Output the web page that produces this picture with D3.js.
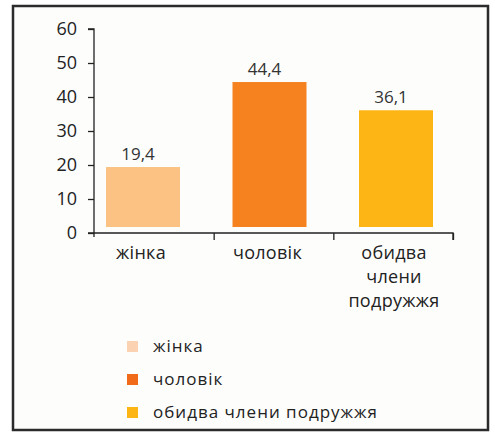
<!DOCTYPE html>
<html><head><meta charset="utf-8">
<script src="https://cdn.jsdelivr.net/npm/d3@7"></script>
<style>body{margin:0;background:#fff;}svg{display:block;font-family:"Open Sans",sans-serif;}</style>
</head><body>
<script>
const categories = ["жінка", "чоловік", "обидва члени подружжя"];
const axisLabels = [["жінка"], ["чоловік"], ["обидва", "члени", "подружжя"]];
const values = [19.4, 44.4, 36.1];
const valueLabels = ["19,4", "44,4", "36,1"];
const colors = ["#FBC283", "#F5821F", "#FDB515"];
const legendColors = ["#FBD3B3", "#F06A1A", "#FDB515"];
const yTicks = [0, 10, 20, 30, 40, 50, 60];

const W = 495, H = 437;
const svg = d3.select("body").append("svg").attr("width", W).attr("height", H);

// frame
svg.append("rect").attr("x", 13).attr("y", 6).attr("width", 475).attr("height", 424)
  .attr("fill", "#fdfdfc").attr("stroke", "#2b2b2b").attr("stroke-width", 2.5);

const x0 = 94, x1 = 453, yTop = 29, yBot = 233;
const x = d3.scaleBand().domain(categories).range([106, 433]).paddingInner(0.415).paddingOuter(0);
const y = d3.scaleLinear().domain([0, 60]).range([yBot, yTop]);

const g = svg.append("g");

// bars
g.selectAll("rect.bar").data(values).join("rect")
  .attr("class", "bar")
  .attr("x", (d, i) => x(categories[i]))
  .attr("width", x.bandwidth())
  .attr("y", d => y(d))
  .attr("height", d => y(0) - 6 - y(d))
  .attr("fill", (d, i) => colors[i]);

// value labels
g.selectAll("text.val").data(values).join("text")
  .attr("class", "val")
  .attr("x", (d, i) => x(categories[i]) + x.bandwidth() / 2 - 5)
  .attr("y", d => y(d) - 7)
  .attr("text-anchor", "middle")
  .attr("font-size", 17).attr("fill", "#333")
  .text((d, i) => valueLabels[i]);

// y axis
const yAxis = d3.axisLeft(y).tickValues(yTicks).tickSize(6).tickPadding(11);
const ya = svg.append("g").attr("transform", `translate(${x0},0)`).call(yAxis);
ya.select(".domain").attr("stroke", "#222").attr("stroke-width", 1.3).attr("d", `M-6,${yTop}H0V${yBot + 4}`);
ya.selectAll(".tick line").attr("stroke", "#222").attr("stroke-width", 1.3);
ya.selectAll(".tick text").attr("font-size", 18).attr("fill", "#222").attr("font-family", "Open Sans, sans-serif");

// x axis
const xLin = d3.scaleLinear().domain([0, 3]).range([x0, x1]);
const xa = svg.append("g").attr("transform", `translate(0,${yBot})`)
  .call(d3.axisBottom(xLin).tickValues([1, 2, 3]).tickSize(7).tickFormat(""));
xa.select(".domain").attr("stroke", "#222").attr("stroke-width", 1.3).attr("d", `M${x0 - 6},0H${x1}V7`);
xa.selectAll(".tick line").attr("stroke", "#222").attr("stroke-width", 1.3);

// x category labels
const xl = svg.append("g");
axisLabels.forEach((lines, i) => {
  const cx = x(categories[i]) + x.bandwidth() / 2 - 2;
  lines.forEach((t, j) => {
    xl.append("text").attr("x", cx).attr("y", 259 + j * 24)
      .attr("text-anchor", "middle").attr("font-size", 18).attr("letter-spacing", 0.3)
      .attr("fill", "#222").text(t);
  });
});

// legend
const leg = svg.append("g").attr("transform", "translate(127,346)");
categories.forEach((c, i) => {
  const row = leg.append("g").attr("transform", `translate(0,${i * 33})`);
  row.append("rect").attr("x", 0).attr("y", -5).attr("width", 11).attr("height", 11).attr("fill", legendColors[i]);
  row.append("text").attr("x", 26).attr("y", 6).attr("font-size", 17).attr("letter-spacing", 1)
    .attr("fill", "#222").text(c);
});
</script>
</body></html>
